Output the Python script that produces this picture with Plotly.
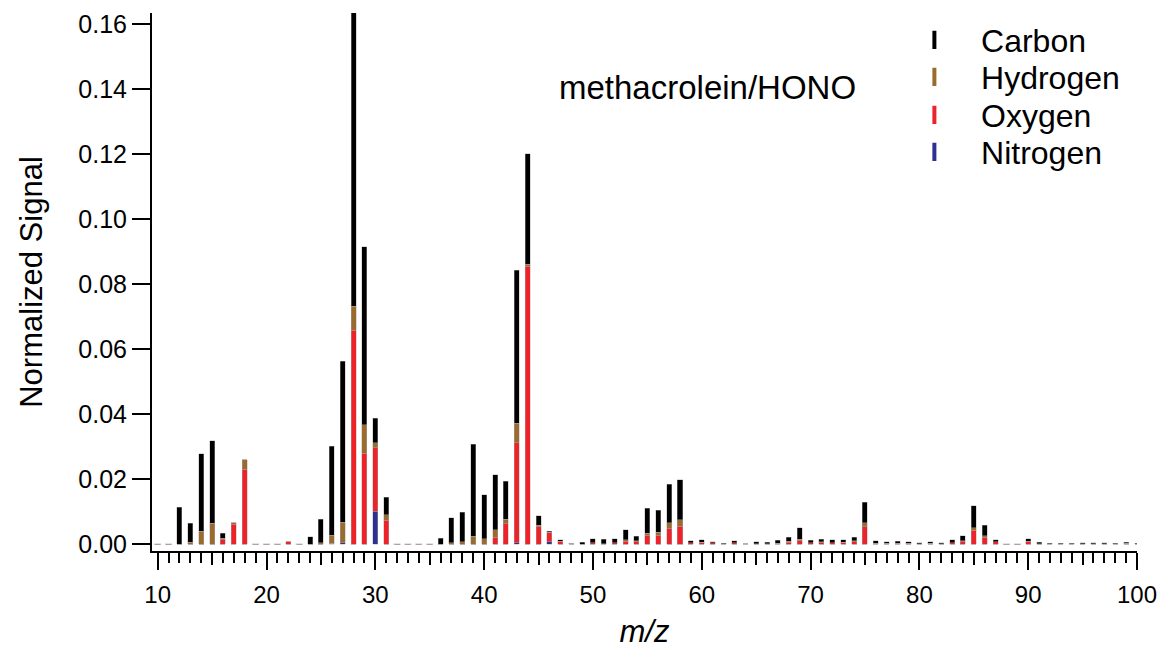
import plotly.graph_objects as go

mz = list(range(10, 101))

carbon = [0, 0, 0.0114, 0.0059, 0.0238, 0.0254, 0.0015, 0, 0, 0,
          0, 0, 0, 0, 0.0023, 0.0073, 0.0273, 0.0496, 0.0905, 0.0549,
          0.0075, 0.0055, 0, 0, 0, 0, 0.0019, 0.0077, 0.0091, 0.0282,
          0.0136, 0.0170, 0.0118, 0.0470, 0.0341, 0.0029, 0.0004, 0.0004, 0, 0.0006,
          0.0012, 0.0013, 0.0011, 0.0031, 0.0014, 0.0076, 0.0069, 0.0118, 0.0123, 0.0006,
          0.0007, 0.0002, 0.0001, 0.0006, 0, 0.0005, 0.0004, 0.0009, 0.0013, 0.0035,
          0.0008, 0.0008, 0.0008, 0.0007, 0.0011, 0.0063, 0.0007, 0.0005, 0.0006, 0.0004,
          0.0002, 0.0004, 0.0003, 0.0008, 0.0015, 0.0068, 0.0033, 0.0006, 0, 0,
          0.0007, 0.0004, 0.0001, 0.0002, 0.0001, 0.0003, 0.0002, 0.0003, 0.0001, 0.0003,
          0.0001]
hydrogen = [0, 0, 0, 0.0006, 0.0040, 0.0065, 0.0004, 0.0004, 0.0030, 0,
            0, 0, 0, 0, 0, 0.0004, 0.0025, 0.0063, 0.0073, 0.0087,
            0.0015, 0.0016, 0, 0, 0, 0, 0, 0.0004, 0.0008, 0.0025,
            0.0016, 0.0022, 0.0013, 0.0061, 0.0006, 0.0004, 0, 0, 0, 0,
            0, 0, 0, 0.0004, 0.0003, 0.0007, 0.0009, 0.0017, 0.0020, 0,
            0, 0, 0, 0, 0, 0, 0, 0, 0.0003, 0.0004,
            0, 0.0002, 0, 0, 0.0002, 0.0012, 0, 0, 0, 0,
            0, 0, 0, 0, 0.0002, 0.0007, 0.0005, 0, 0, 0,
            0, 0, 0, 0, 0, 0, 0, 0, 0, 0,
            0]
oxygen = [0, 0, 0, 0, 0, 0, 0.0014, 0.0062, 0.0230, 0,
          0, 0, 0.0007, 0, 0, 0, 0, 0, 0.0659, 0.0280,
          0.0196, 0.0074, 0, 0, 0, 0, 0, 0, 0, 0,
          0, 0.0022, 0.0063, 0.0308, 0.0855, 0.0054, 0.0028, 0.0009, 0.0003, 0,
          0.0004, 0.0002, 0.0005, 0.0009, 0.0008, 0.0027, 0.0027, 0.0049, 0.0055, 0.0005,
          0.0006, 0.0005, 0.0002, 0.0004, 0.0002, 0.0002, 0.0002, 0.0003, 0.0006, 0.0011,
          0.0004, 0.0005, 0.0005, 0.0006, 0.0008, 0.0054, 0.0003, 0.0003, 0.0003, 0.0003,
          0.0002, 0.0003, 0.0002, 0.0005, 0.0009, 0.0043, 0.0021, 0.0007, 0, 0,
          0.0009, 0.0002, 0.0002, 0.0001, 0.0002, 0.0001, 0.0002, 0.0001, 0.0002, 0.0003,
          0.0002]
nitrogen = [0, 0, 0, 0, 0, 0, 0, 0, 0, 0,
            0, 0, 0, 0, 0, 0, 0.0003, 0.0004, 0, 0,
            0.0101, 0, 0, 0, 0, 0, 0, 0, 0, 0,
            0, 0, 0, 0.0004, 0, 0, 0.0008, 0, 0, 0,
            0, 0, 0, 0, 0, 0, 0, 0, 0, 0,
            0, 0, 0, 0, 0, 0, 0, 0, 0, 0,
            0, 0, 0, 0, 0, 0, 0, 0, 0, 0,
            0, 0, 0, 0, 0, 0, 0, 0, 0, 0,
            0, 0, 0, 0, 0, 0, 0, 0, 0, 0,
            0]

series_names = ["Carbon", "Hydrogen", "Oxygen", "Nitrogen"]
colors = {"Carbon": "#000000", "Hydrogen": "#9b6a2f", "Oxygen": "#ee2229", "Nitrogen": "#2e3192"}
values = {"Carbon": carbon, "Hydrogen": hydrogen, "Oxygen": oxygen, "Nitrogen": nitrogen}

y_ticks = [0.00, 0.02, 0.04, 0.06, 0.08, 0.10, 0.12, 0.14, 0.16]
x_ticks = [10, 20, 30, 40, 50, 60, 70, 80, 90, 100]
x_mid_ticks = [15, 25, 35, 45, 55, 65, 75, 85, 95]

FONT = "Liberation Sans, Arial, sans-serif"

fig = go.Figure()

# stacked bars: Nitrogen bottom, then Oxygen, Hydrogen, Carbon on top
for name in ["Nitrogen", "Oxygen", "Hydrogen", "Carbon"]:
    fig.add_trace(go.Bar(
        x=mz, y=values[name], name=name, showlegend=False,
        width=0.46,
        marker=dict(color=colors[name], line=dict(color="rgba(170,170,170,0.7)", width=0.6)),
    ))

# zero-signal markers (dashes at baseline)
zero_mz = [m for m, c, h, o, n in zip(mz, carbon, hydrogen, oxygen, nitrogen) if c + h + o + n == 0]
fig.add_trace(go.Scatter(
    x=zero_mz, y=[0] * len(zero_mz), mode="markers", showlegend=False, hoverinfo="skip",
    xaxis="x2",
    marker=dict(symbol="line-ew", size=5, line=dict(width=1, color="#b89aa8")),
))

# legend entries, one legend per row so the row spacing can follow the reference
legend_ids = ["legend", "legend2", "legend3", "legend4"]
for name, lid in zip(series_names, legend_ids):
    fig.add_trace(go.Scatter(
        x=[None], y=[None], mode="markers", name="\u00a0\u00a0\u00a0" + name, legend=lid,
        marker=dict(symbol="line-ns", size=13, line=dict(width=4, color=colors[name])),
    ))

# plot area: top 13 px, height 538 px
row_centers_px = [40, 77, 115, 152]
legend_layouts = {}
for lid, yc in zip(legend_ids, row_centers_px):
    legend_layouts[lid] = dict(
        x=0.774, y=1 - (yc - 13) / 538, xanchor="left", yanchor="middle",
        bgcolor="rgba(0,0,0,0)", font=dict(size=32, family=FONT),
    )

xr = [9.476, 100.0]
fig.update_layout(
    width=1165, height=649,
    margin=dict(l=152, r=28, t=13, b=98, autoexpand=False),
    paper_bgcolor="white", plot_bgcolor="white",
    barmode="stack", bargap=0.5,
    font=dict(family=FONT, color="black", size=24),
    showlegend=True,
    **legend_layouts,
    xaxis=dict(
        range=xr, showgrid=False, zeroline=False, automargin=False,
        showline=True, linecolor="black", linewidth=2,
        ticks="outside", ticklen=17, tickwidth=2, tickcolor="black",
        tickvals=x_ticks, ticktext=[str(v) for v in x_ticks],
        tickfont=dict(size=24), ticklabelstandoff=4,
        minor=dict(dtick=1, tick0=10, ticks="outside", ticklen=10, tickwidth=2, tickcolor="black", showgrid=False),
        title=dict(text="<i>m/z</i>", font=dict(size=31), standoff=14),
    ),
    xaxis2=dict(
        range=xr, overlaying="x", anchor="y", side="bottom", automargin=False,
        showgrid=False, zeroline=False, showline=False,
        ticks="outside", ticklen=13, tickwidth=2, tickcolor="black",
        tickvals=x_mid_ticks, showticklabels=False,
    ),
    yaxis=dict(
        range=[-0.0021, 0.1635], showgrid=False, zeroline=False, automargin=False,
        showline=True, linecolor="black", linewidth=2,
        ticks="outside", ticklen=18, tickwidth=2, tickcolor="black",
        tickvals=y_ticks, tickformat=".2f",
        tickfont=dict(size=25),
        title=dict(text="Normalized Signal", font=dict(size=31), standoff=26),
    ),
    annotations=[dict(
        text="methacrolein/HONO", xref="paper", yref="paper",
        x=0.411, y=0.861, xanchor="left", yanchor="middle",
        showarrow=False, font=dict(size=33, family=FONT),
    )],
)

fig.write_html("out.html")
